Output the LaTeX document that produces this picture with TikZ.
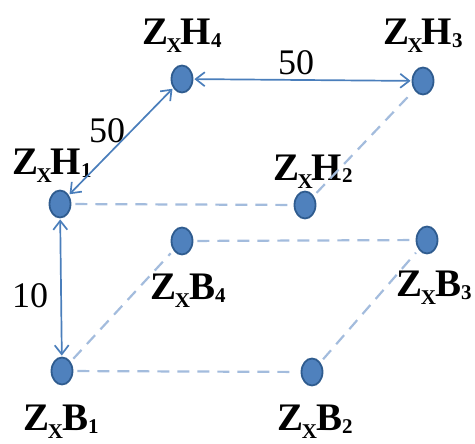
\documentclass[tikz,border=0pt]{standalone}
\usepackage{fontspec}
\setmainfont{Liberation Serif}
\usepackage{xcolor}
\usepackage{tikz}
\usetikzlibrary{shapes.geometric, arrows.meta}
\definecolor{cDot}{HTML}{4F81BD}
\definecolor{cDotB}{HTML}{2F5C8F}
\definecolor{cArrow}{HTML}{4A7EBB}
\definecolor{cDash}{HTML}{A3BCDD}
\newcommand{\lowsub}[2]{\raisebox{#1}{\fontsize{10.5}{12}\selectfont #2}}
\newcommand{\zname}[2]{Z\kern-0.8pt\lowsub{-4pt}{X}\kern-0.5pt#1\lowsub{-1.5pt}{#2}}

\begin{document}
\begin{tikzpicture}[
  x=0.5pt, y=-0.5pt,
  dot/.style={ellipse, draw=cDotB, fill=cDot, line width=0.9pt, minimum width=10.5pt, minimum height=13.5pt, inner sep=0pt},
  lbl/.style={anchor=base, font=\fontsize{19.5}{22}\selectfont\bfseries, inner sep=0pt},
  num/.style={anchor=base, font=\fontsize{18}{20}\selectfont, inner sep=0pt},
  ar/.style={{Straight Barb[length=4.5pt,width=7pt]}-{Straight Barb[length=4.5pt,width=7pt]}, line width=0.85pt, draw=cArrow, shorten <=0.5pt, shorten >=0.5pt},
  dsh/.style={draw=cDash, line width=1.1pt, dash pattern=on 6pt off 4pt, shorten <=2pt, shorten >=2pt}
]
\useasboundingbox (0,0) rectangle (475,443);

% Top level
\node[dot] (h4) at (182,79) {};
\node[dot] (h3) at (423,81) {};
\node[dot] (h1) at (60,204) {};
\node[dot] (h2) at (305,205) {};

% Bottom level
\node[dot] (b4) at (182,241) {};
\node[dot] (b3) at (427,240) {};
\node[dot] (b1) at (62,371) {};
\node[dot] (b2) at (312,372) {};

% Labels
\node[lbl] (lh4) at (182,45) {\zname{H}{4}};
\node[lbl] (lh3) at (423,45) {\zname{H}{3}};
\node[lbl] (lh1) at (52,175) {\zname{H}{1}};
\node[lbl] (lh2) at (313,180) {\zname{H}{2}};
\node[lbl] (lb4) at (188,299) {\zname{B}{4}};
\node[lbl] (lb3) at (434,296) {\zname{B}{3}};
\node[lbl] (lb1) at (61,430) {\zname{B}{1}};
\node[lbl] (lb2) at (315,430) {\zname{B}{2}};

% Distances
\node[num] (d43) at (296,75) {50};
\node[num] (d14) at (107,142) {50};
\node[num] (d11) at (30,307) {10};

\draw[ar] (h4) -- (h3);
\draw[ar] (h1) -- (h4);
\draw[ar] (h1) -- (b1);

\draw[dsh] (h1) -- (h2);
\draw[dsh] (h2) -- (h3);
\draw[dsh] (b4) -- (b3);
\draw[dsh] (b1) -- (b4);
\draw[dsh] (b1) -- (b2);
\draw[dsh] (b2) -- (b3);
\end{tikzpicture}
\end{document}
